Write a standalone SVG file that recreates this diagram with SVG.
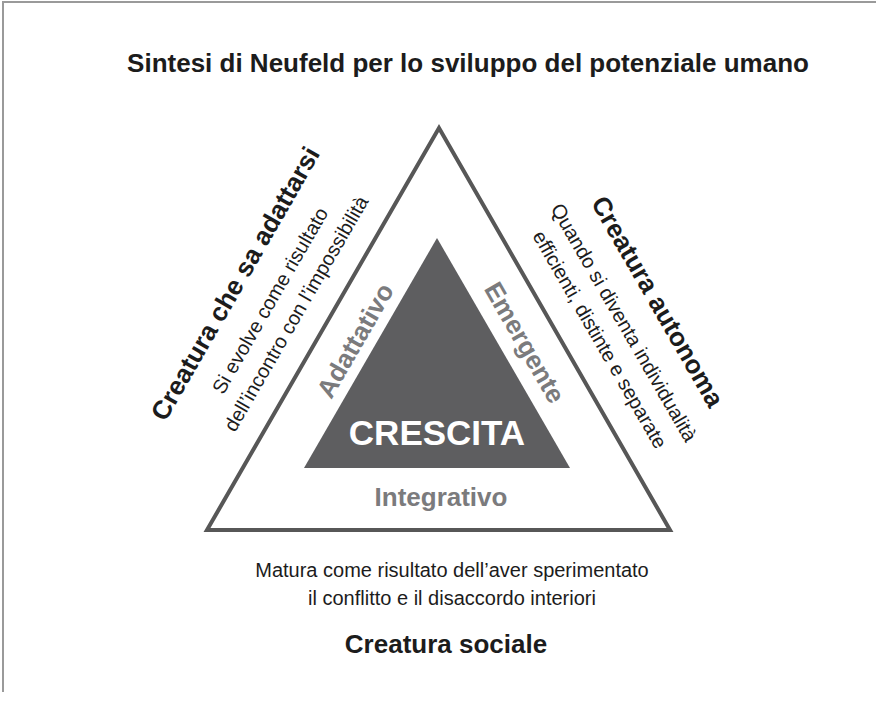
<svg xmlns="http://www.w3.org/2000/svg" width="876" height="702" viewBox="0 0 876 702">
<style>
text{font-family:"Liberation Sans",Arial,sans-serif;text-anchor:middle}
.b{font-weight:bold;font-size:26px;fill:#1c1c1c}
.n{font-size:20px;fill:#1c1c1c}
.g{font-weight:bold;font-size:26px;fill:#7b7b7d}
.w{font-weight:bold;font-size:35px;fill:#ffffff}
</style>
<rect width="876" height="702" fill="#ffffff"/>
<path d="M3,692 L3,2 L876,2" fill="none" stroke="#9a9a9a" stroke-width="2"/>
<text class="b" x="468" y="72">Sintesi di Neufeld per lo sviluppo del potenziale umano</text>
<g id="connectors"></g>
<g id="outer">
<polygon points="439,128 207,530 670,530" fill="none" stroke="#575757" stroke-width="4" stroke-linejoin="miter"/>
</g>
<g id="inner">
<polygon points="437,238 304,468 570,468" fill="#5e5e60"/>
<text class="w" x="437" y="445">CRESCITA</text>
</g>
<g id="left">
<text class="b" transform="translate(243,288) rotate(-60)">Creatura che sa adattarsi</text>
<text class="n" transform="translate(276,304) rotate(-60)">Si evolve come risultato</text>
<text class="n" transform="translate(302,317) rotate(-60)">dell’incontro con l’impossibilità</text>
<text class="g" transform="translate(363,345) rotate(-60)">Adattativo</text>
</g>
<g id="right">
<text class="b" transform="translate(650,306) rotate(60)">Creatura autonoma</text>
<text class="n" transform="translate(618,326) rotate(60)">Quando si diventa individualità</text>
<text class="n" transform="translate(594,343) rotate(60)">efficienti, distinte e separate</text>
<text class="g" transform="translate(517,347) rotate(60)">Emergente</text>
</g>
<g id="bottom">
<text class="g" x="441" y="506">Integrativo</text>
<text class="n" x="452" y="577">Matura come risultato dell’aver sperimentato</text>
<text class="n" x="452" y="605">il conflitto e il disaccordo interiori</text>
<text class="b" x="446" y="653">Creatura sociale</text>
</g>
</svg>
